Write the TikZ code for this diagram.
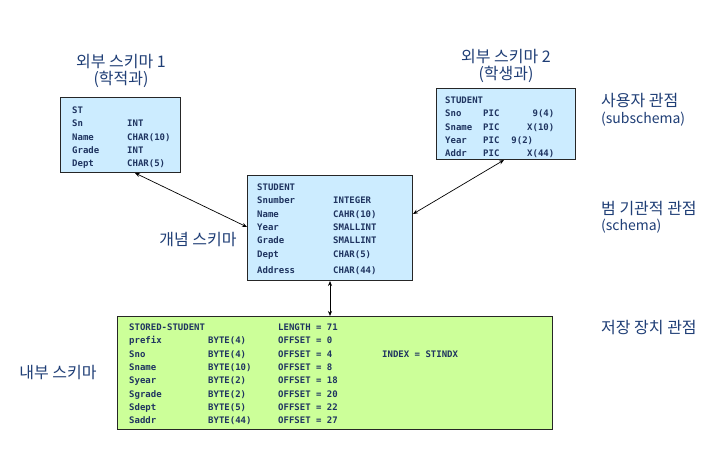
\documentclass[tikz,border=0pt]{standalone}
\usepackage{fontspec}
\setmonofont{DejaVu Sans Mono}
\newfontfamily\kr{Noto Sans CJK KR}
\usetikzlibrary{arrows.meta,calc}
\definecolor{navy}{RGB}{31,52,96}
\definecolor{krblue}{RGB}{31,62,118}
\definecolor{lblue}{RGB}{204,236,255}
\definecolor{lgreen}{RGB}{204,255,153}
\begin{document}
\begin{tikzpicture}[x=1pt,y=-1pt,
  box/.style={draw=black!85, line width=1pt, inner sep=0pt, anchor=north west},
  tbl/.style={anchor=north west, inner sep=0pt, text=navy, font=\ttfamily\bfseries\fontsize{9}{13.3}\selectfont, align=left},
  lbl/.style={inner sep=0pt, text=krblue, font=\kr\fontsize{16}{19}\selectfont},
  lat/.style={inner sep=0pt, text=krblue, font=\kr\fontsize{14}{17}\selectfont},
  conn/.style={{Stealth[length=5pt,width=4pt]}-{Stealth[length=5pt,width=4pt]}, line width=0.7pt, black}]
\fill[white] (0,0) rectangle (721,449);
\useasboundingbox (0,0) rectangle (721,449);

% boxes
\node[box, fill=lblue, minimum width=120pt, minimum height=75pt] (st) at (60,97) {};
\node[box, fill=lblue, minimum width=139pt, minimum height=71pt] (ext2) at (436,88) {};
\node[box, fill=lblue, minimum width=165pt, minimum height=105pt] (concept) at (247,175) {};
\node[box, fill=lgreen, minimum width=435pt, minimum height=113pt] (internal) at (117,316) {};

% box contents
\node[tbl] (sttxt) at ([shift={(12,7)}]st.north west) {%
\begin{tabular}{@{}p{55pt}@{}l@{}}
ST & \\
Sn & INT \\
Name & CHAR(10) \\
Grade & INT \\
Dept & CHAR(5)
\end{tabular}};

\node[tbl] (ext2txt) at ([shift={(9,6)}]ext2.north west) {%
\begin{tabular}{@{}p{38pt}@{}p{44pt}@{}r@{}}
STUDENT & & \\
Sno & PIC & 9(4) \\
Sname & PIC & X(10) \\
Year & \multicolumn{2}{@{}l@{}}{PIC\hspace{12pt}9(2)} \\
Addr & PIC & X(44)
\end{tabular}};

\node[tbl] (concepttxt) at ([shift={(10,6)}]concept.north west) {%
\begin{tabular}{@{}p{76pt}@{}l@{}}
STUDENT & \\
Snumber & INTEGER \\
Name & CAHR(10) \\
Year & SMALLINT \\
Grade & SMALLINT \\
Dept & CHAR(5) \\[3pt]
Address & CHAR(44)
\end{tabular}};

\node[tbl] (internaltxt) at ([shift={(12,5)}]internal.north west) {%
\begin{tabular}{@{}p{79pt}@{}p{70pt}@{}p{104pt}@{}l@{}}
STORED-STUDENT & & LENGTH = 71 & \\
prefix & BYTE(4) & OFFSET = 0 & \\
Sno & BYTE(4) & OFFSET = 4 & INDEX = STINDX \\
Sname & BYTE(10) & OFFSET = 8 & \\
Syear & BYTE(2) & OFFSET = 18 & \\
Sgrade & BYTE(2) & OFFSET = 20 & \\
Sdept & BYTE(5) & OFFSET = 22 & \\
Saddr & BYTE(44) & OFFSET = 27 &
\end{tabular}};

% connectors
\draw[conn] ([shift={(75,0)}]st.south west) -- ([shift={(0,52)}]concept.north west);
\draw[conn] ([shift={(68,0)}]ext2.south west) -- ([shift={(0,39)}]concept.north east);
\draw[conn] ([shift={(83,0)}]concept.south west) -- ([shift={(213,0)}]internal.north west);

% labels
\node[lbl] (ext1a) at (121,62) {외부 스키마 1};
\node[lbl] (ext1b) at (121,79) {(학적과)};
\node[lbl] (ext2a) at (506,57) {외부 스키마 2};
\node[lbl] (ext2b) at (506,74) {(학생과)};
\node[lbl, anchor=west] (userv) at (601,101) {사용자 관점};
\node[lat, anchor=west] (userv2) at (601,119) {(subschema)};
\node[lbl, anchor=west] (orgv) at (601,209) {범 기관적 관점};
\node[lat, anchor=west] (orgv2) at (601,226) {(schema)};
\node[lbl, anchor=west] (storv) at (601,328) {저장 장치 관점};
\node[lbl] (conclbl) at (198,240) {개념 스키마};
\node[lbl] (intlbl) at (58,373) {내부 스키마};
\end{tikzpicture}
\end{document}
